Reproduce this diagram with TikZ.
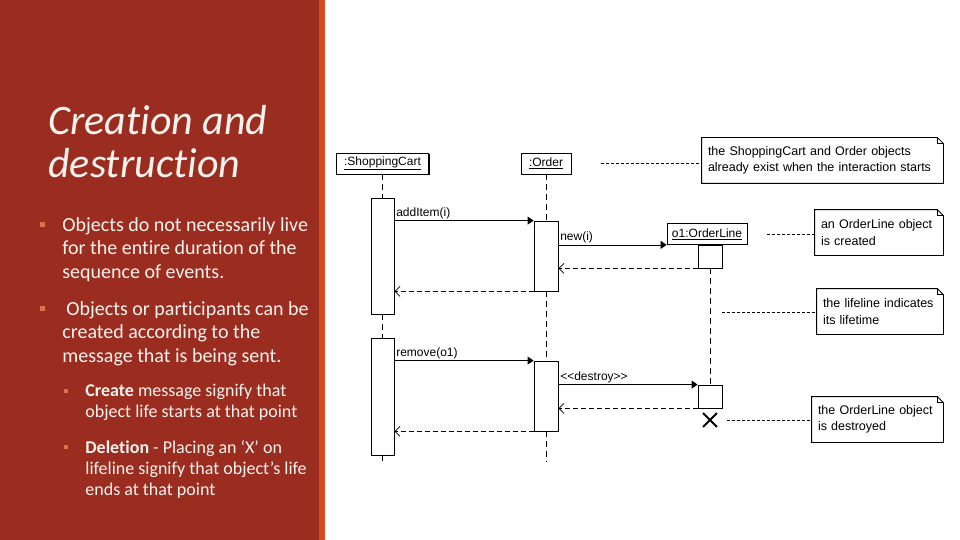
\documentclass[tikz,border=0pt]{standalone}
\usepackage{fontspec}
\setmainfont{Carlito}[Ligatures={TeX,NoCommon}]
\newfontfamily\umlfont{Liberation Sans}
\usetikzlibrary{arrows.meta,shadows,shapes.misc,positioning}
\definecolor{slidered}{RGB}{155,45,32}
\definecolor{stripe}{RGB}{210,76,32}
\definecolor{bulletcol}{RGB}{222,112,78}
\definecolor{paper}{RGB}{246,242,238}

\begin{document}
\begin{tikzpicture}[
    x=1pt, y=-1pt,
    line width=0.8pt,
    every node/.style={font=\umlfont\fontsize{12}{14}\selectfont},
    obj/.style={draw, fill=white, inner sep=0pt, minimum height=21pt},
    boxshadow/.style={drop shadow={shadow xshift=1.2pt, shadow yshift=-1.2pt, opacity=1, fill=black}},
    act/.style={draw, fill=white, inner sep=0pt, minimum width=23pt},
    note/.style={inner xsep=6pt, inner ysep=0pt, align=left, minimum height=45pt, font=\umlfont\fontsize{12.5}{16.5}\selectfont},
    life/.style={dash pattern=on 6pt off 4pt},
    msg/.style={-{Triangle[length=6pt,width=8pt]}},
    ret/.style={dash pattern=on 5pt off 3pt, -{Straight Barb[length=5pt,width=10pt]}},
    link/.style={line width=0.6pt, dash pattern=on 3pt off 2pt},
    lbl/.style={above right, inner sep=1.5pt},
    bullet/.style={fill=bulletcol, inner sep=0pt, minimum size=5pt},
    slide/.style={text=paper, align=left, anchor=base west, inner sep=0pt}
]
\useasboundingbox (0,0) rectangle (960,540);
\fill[white] (0,0) rectangle (960,540);

% left panel (text nodes sit on the baseline of their last line)
\fill[slidered] (0,0) rectangle (319,540);
\fill[stripe] (319,0) rectangle (325,540);

\node[slide, font=\fontsize{42}{43}\selectfont\itshape] (title) at (48,178) {Creation and\\destruction};

\node[bullet] (b1) at (42.5,224.5) {};
\node[slide, font=\fontsize{20}{23.7}\selectfont] (p1) at (62,278.4) {Objects do not necessarily live\\for the entire duration of the\\sequence of events.};
\node[bullet] (b2) at (42.5,308.5) {};
\node[slide, font=\fontsize{20}{23.7}\selectfont] (p2) at (62,362.4) {\hspace{4pt}Objects or participants can be\\created according to the\\message that is being sent.};
\node[bullet, minimum size=4pt] (b3) at (66,391) {};
\node[slide, font=\fontsize{18}{21.3}\selectfont] (p3) at (85,417.8) {\textbf{Create} message signify that\\object life starts at that point};
\node[bullet, minimum size=4pt] (b4) at (66,446.5) {};
\node[slide, font=\fontsize{18}{21.3}\selectfont] (p4) at (85,495.6) {\textbf{Deletion} - Placing an ‘X’ on\\lifeline signify that object’s life\\ends at that point};

% sequence diagram
\node[obj, boxshadow, minimum width=92pt] (cart) at (382.5,163.5) {\underline{:ShoppingCart}};
\node[obj, minimum width=50pt] (order) at (546,163.5) {\underline{:Order}};
\node[obj, minimum width=80pt] (line) at (707,234) {\underline{o1:OrderLine}};

\node[act, boxshadow, minimum height=116pt] (cart1) at (382.5,256) {};
\node[act, boxshadow, minimum height=117pt] (cart2) at (382.5,396.5) {};
\node[act, minimum width=24pt, minimum height=70pt] (order1) at (546,256) {};
\node[act, minimum width=24pt, minimum height=70pt] (order2) at (546,396) {};
\node[act, minimum width=24pt, minimum height=23pt] (line1) at (710,256.5) {};
\node[act, minimum width=24pt, minimum height=23pt] (line2) at (710,396.5) {};
\node[draw, cross out, line width=1.8pt, minimum size=12pt, inner sep=0pt] (kill) at (710,420) {};

\coordinate (cartend) at (382.5,462);
\coordinate (orderend) at (546,462);

\draw[life] (cart) -- (cart1);
\draw[life] (cart1) -- (cart2);
\draw[life] (cart2) -- (cartend);
\draw[life] (order) -- (order1);
\draw[life] (order1) -- (order2);
\draw[life] (order2) -- (orderend);
\draw[life] (line1) -- (line2);

\draw[msg] (cart1.east |- order1.north) -- node[lbl, pos=0] {addItem(i)} (order1.north west);
\draw[msg] (order1.east |- line.south) -- node[lbl, pos=0] {new(i)} (line.south west);
\draw[ret] (line1.south west) -- (order1.east |- line1.south);
\draw[ret] (order1.south west) -- (cart1.east |- order1.south);
\draw[msg] (cart2.east |- order2.north) -- node[lbl, pos=0] {remove(o1)} (order2.north west);
\draw[msg] (order2.east |- line2.north) -- node[lbl, pos=0] {<<destroy>>} (line2.north west);
\draw[ret] (line2.south west) -- (order2.east |- line2.south);
\draw[ret] (order2.south west) -- (cart2.east |- order2.south);

% notes
\node[note, text width=229pt] (n1) at (822.5,160.5) {the ShoppingCart and Order objects\\already exist when the interaction starts};
\node[note, text width=116pt] (n2) at (879,232.5) {an OrderLine object\\is created};
\node[note, text width=114pt] (n3) at (880,311.5) {the lifeline indicates\\its lifetime};
\node[note, text width=119pt] (n4) at (877.5,419.5) {the OrderLine object\\is destroyed};

\foreach \n in {n1,n2,n3,n4} {
  \draw (\n.north west) -- ([xshift=-6pt]\n.north east) -- ([yshift=-6pt]\n.north east) -- (\n.south east) -- (\n.south west) -- cycle;
  \draw ([xshift=-6pt]\n.north east) |- ([yshift=-6pt]\n.north east);
}

\coordinate (lifemark) at (722,312);
\draw[link] ([xshift=30pt]order.east) -- (order.east -| n1.west);
\draw[link] ([xshift=20pt]line.east) -- (line.east -| n2.west);
\draw[link] (lifemark) -- (lifemark -| n3.west);
\draw[link] ([xshift=10pt]kill.east) -- (kill.east -| n4.west);
\end{tikzpicture}
\end{document}
